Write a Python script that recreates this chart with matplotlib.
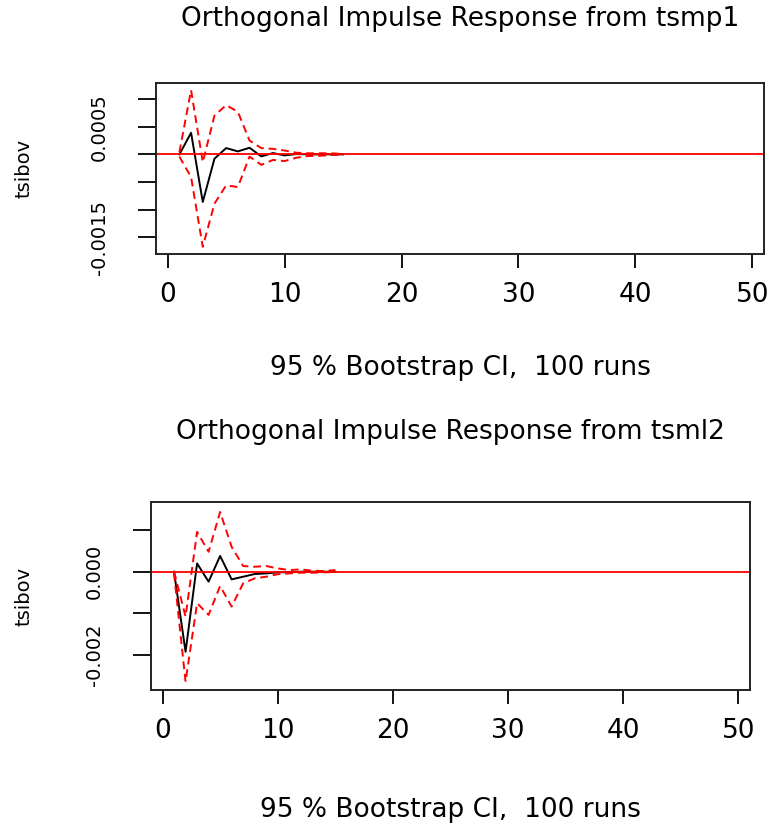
import matplotlib.pyplot as plt

plt.rcParams['font.family'] = ['DejaVu Sans']

steps = list(range(1, 16))

# tsibov response to tsmp1 shock
mp1_irf = [0.0, 0.00039, -0.00086, -0.000078, 0.000114, 0.000054, 0.00012, -0.000036,
           0.000024, -0.000018, 0.000006, 0.0, 0.0, 0.0, 0.0]
mp1_upper = [0.00004, 0.00116, -0.00014, 0.0007, 0.00089, 0.00077, 0.00025, 0.000114,
             0.0001, 0.00007, 0.00003, 0.00002, 0.00002, 0.00002, 0.000006]
mp1_lower = [-0.00004, -0.00041, -0.00167, -0.00089, -0.00056, -0.00059, -0.00004, -0.00019,
             -0.0001, -0.00012, -0.00006, -0.00003, -0.000025, -0.000012, -0.000006]

# tsibov response to tsml2 shock
ml2_irf = [0.0, -0.00193, 0.0002, -0.00024, 0.00038, -0.000185, -0.00012, -0.000056,
           -0.00004, -0.000016, -0.00001, 0.0, 0.0, 0.0, 0.0]
ml2_upper = [0.0, -0.00108, 0.00096, 0.00048, 0.00144, 0.0006, 0.000137, 0.00012,
             0.000137, 0.00008, 0.00004, 0.000056, 0.000024, 0.000016, 0.00004]
ml2_lower = [-0.00004, -0.00265, -0.00076, -0.00104, -0.000345, -0.00084, -0.00028, -0.00016,
             -0.00012, -0.00006, -0.00004, -0.000024, -0.000024, -0.000016, -0.000008]

x_ticks = [0, 10, 20, 30, 40, 50]
mp1_yticks = [-0.0015, -0.001, -0.0005, 0.0, 0.0005, 0.001]
mp1_ylabels = ['-0.0015', '', '', '', '0.0005', '']
ml2_yticks = [-0.002, -0.001, 0.0, 0.001]
ml2_ylabels = ['-0.002', '', '0.000', '']

W, H = 771, 833
fig = plt.figure(figsize=(W / 100, H / 100), dpi=100)


def panel(px_left, px_right, px_top, px_bottom, irf, upper, lower, ylim,
          yticks, ylabels, title, title_off, xlab_off):
    ax = fig.add_axes([px_left / W, 1 - px_bottom / H,
                       (px_right - px_left) / W, (px_bottom - px_top) / H])
    ax.plot(steps, irf, color='black', lw=1.4)
    ax.plot(steps, upper, color='red', lw=1.4, dashes=(4, 2.5))
    ax.plot(steps, lower, color='red', lw=1.4, dashes=(4, 2.5))
    ax.axhline(0, color='red', lw=1.3)
    ax.set_xlim(-1, 51)
    ax.set_ylim(*ylim)
    ax.set_xticks(x_ticks)
    ax.set_yticks(yticks)
    ax.set_yticklabels(ylabels, rotation=90, va='center', fontsize=14)
    ax.tick_params(axis='x', length=10, width=1.3, pad=10, labelsize=19)
    ax.tick_params(axis='y', length=13, width=1.3, pad=21)
    for s in ax.spines.values():
        s.set_linewidth(1.4)
        s.set_color('#222222')
    ax.set_title(title, fontsize=19, y=1 + title_off / (px_bottom - px_top),
                 pad=0, va='center')
    ax.set_xlabel('95 % Bootstrap CI,  100 runs', fontsize=19)
    ax.xaxis.set_label_coords(0.5, -xlab_off / (px_bottom - px_top))
    ax.xaxis.label.set_va('center')
    ax.set_ylabel('tsibov', fontsize=14)
    ax.yaxis.set_label_coords((24 - px_left) / (px_right - px_left), 0.5)
    ax.yaxis.label.set_va('center')
    return ax


panel(156, 764, 83, 254, mp1_irf, mp1_upper, mp1_lower, (-0.0018, 0.00129),
      mp1_yticks, mp1_ylabels, 'Orthogonal Impulse Response from tsmp1', 64, 114)
panel(151, 750, 502, 690, ml2_irf, ml2_upper, ml2_lower, (-0.00285, 0.00168),
      ml2_yticks, ml2_ylabels, 'Orthogonal Impulse Response from tsml2', 70, 120)

fig.savefig('out.png', dpi=100)
